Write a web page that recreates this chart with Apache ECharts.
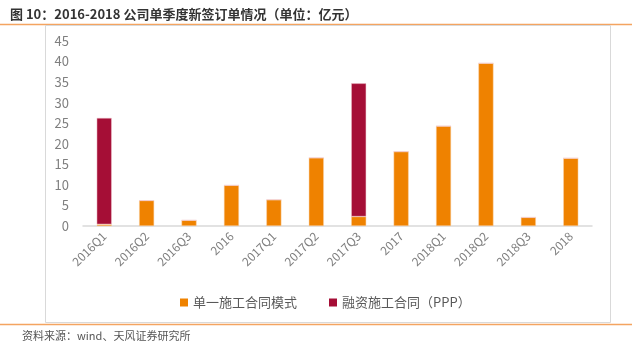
<!DOCTYPE html>
<html>
<head>
<meta charset="utf-8">
<script src="https://cdn.jsdelivr.net/npm/echarts@6/dist/echarts.min.js"></script>
<style>
  html, body { margin: 0; padding: 0; background: #fff; }
  #main { width: 632px; height: 351px; }
</style>
</head>
<body>
<div id="main"></div>
<script>
// 数据
var categories = ['2016Q1', '2016Q2', '2016Q3', '2016', '2017Q1', '2017Q2', '2017Q3', '2017', '2018Q1', '2018Q2', '2018Q3', '2018'];
var singleContract = [0.4, 6.2, 1.4, 9.9, 6.4, 16.6, 2.3, 18.1, 24.3, 39.6, 2.1, 16.5]; // 单一施工合同模式
var pppContract = [25.9, 0, 0, 0, 0, 0, 32.4, 0, 0, 0, 0, 0];                           // 融资施工合同（PPP）
var yTicks = [0, 45, 5]; // min, max, interval

var chart = echarts.init(document.getElementById('main'));
chart.setOption({
    backgroundColor: '#fff',
    animation: false,
    textStyle: { fontFamily: '"Noto Sans CJK SC", "Liberation Sans", sans-serif' },
    title: {
        text: '图 10：2016-2018 公司单季度新签订单情况（单位：亿元）',
        left: 5, top: 3,
        textStyle: { fontSize: 13, fontWeight: 'bold', color: '#333' }
    },
    graphic: [
        { type: 'line', shape: { x1: 0, y1: 24.5, x2: 632, y2: 24.5 }, style: { stroke: '#f4a460', lineWidth: 1.5 } },
        { type: 'rect', shape: { x: 45.5, y: 25.5, width: 565, height: 297 }, style: { fill: 'none', stroke: '#d9d9d9', lineWidth: 1 } },
        { type: 'line', shape: { x1: 0, y1: 324.5, x2: 632, y2: 324.5 }, style: { stroke: '#f4a460', lineWidth: 1.5 } },
        { type: 'text', left: 22, top: 330, style: { text: '资料来源：wind、天风证券研究所', fontSize: 11, fill: '#555', fontFamily: '"Noto Sans CJK SC", sans-serif' } }
    ],
    legend: {
        left: 175, top: 291,
        itemWidth: 8, itemHeight: 8, itemGap: 32,
        icon: 'rect',
        itemStyle: { borderWidth: 0 },
        textStyle: { fontSize: 13, color: '#595959' },
        data: ['单一施工合同模式', '融资施工合同（PPP）']
    },
    grid: { left: 83, right: 40, top: 41, bottom: 125 },
    xAxis: {
        type: 'category',
        data: categories,
        axisLine: { lineStyle: { color: '#d9d9d9', width: 1.5 } },
        axisTick: { show: false },
        axisLabel: { rotate: 45, color: '#7f7f7f', fontSize: 12, interval: 0, margin: 8 }
    },
    yAxis: {
        type: 'value',
        min: yTicks[0], max: yTicks[1], interval: yTicks[2],
        axisLine: { show: false },
        axisTick: { show: false },
        splitLine: { show: false },
        axisLabel: { color: '#7f7f7f', fontSize: 13, margin: 14 }
    },
    series: [{
        name: '单一施工合同模式',
        type: 'bar',
        stack: 'total',
        data: singleContract,
        barWidth: 15,
        itemStyle: { color: '#ef8200', borderColor: '#fbd3a8', borderWidth: 0.5 }
    }, {
        name: '融资施工合同（PPP）',
        type: 'bar',
        stack: 'total',
        data: pppContract,
        barWidth: 15,
        itemStyle: { color: '#a50e36', borderColor: '#f0c8d0', borderWidth: 0.5 }
    }]
});
</script>
</body>
</html>
